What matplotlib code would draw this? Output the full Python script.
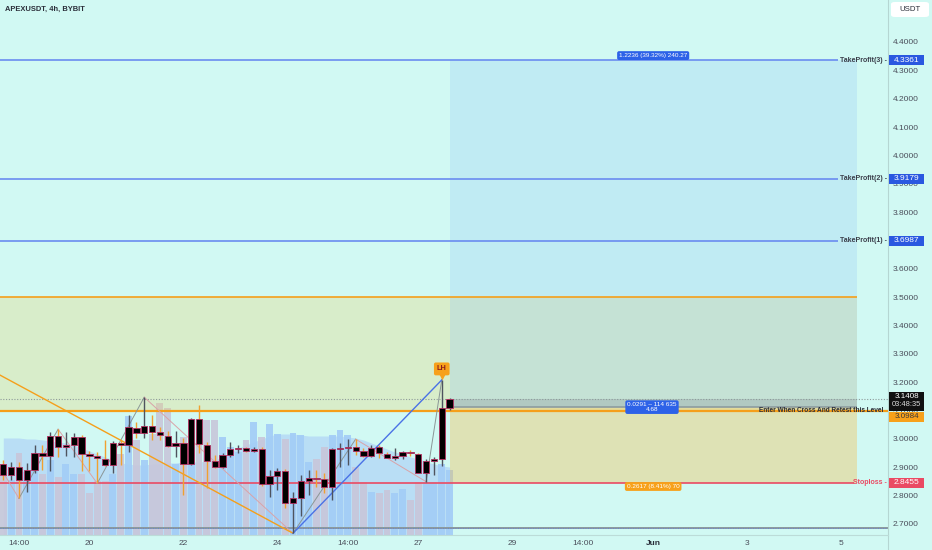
import matplotlib
matplotlib.use("Agg")
import matplotlib.pyplot as plt
import matplotlib.transforms as mtrans
from matplotlib.patches import Rectangle, FancyBboxPatch
from matplotlib.lines import Line2D
import numpy as np

plt.rcParams['font.family'] = ['Liberation Sans', 'DejaVu Sans']

# ---------------- data ----------------
opens = [2.912, 2.873, 2.902, 2.855, 2.890, 2.949, 2.940, 3.010, 2.970, 2.979,
         3.006, 2.946, 2.940, 2.929, 2.908, 2.984, 2.977, 3.040, 3.020, 3.046,
         3.023, 3.010, 2.975, 2.984, 2.912, 3.069, 2.979, 2.922, 2.900, 2.944,
         2.965, 2.967, 2.957, 2.963, 2.841, 2.870, 2.888, 2.775, 2.790, 2.853,
         2.863, 2.857, 2.829, 2.964, 2.967, 2.973, 2.959, 2.940, 2.973, 2.947,
         2.934, 2.940, 2.952, 2.947, 2.881, 2.922, 2.928, 3.108]
highs = [2.926, 2.920, 2.920, 2.914, 2.979, 2.979, 3.026, 3.034, 3.023, 3.022,
         3.014, 2.959, 2.955, 2.996, 2.993, 2.996, 3.084, 3.061, 3.147, 3.084,
         3.043, 3.029, 3.029, 3.002, 3.073, 3.120, 2.990, 2.943, 2.949, 2.990,
         2.979, 2.973, 2.973, 2.973, 2.890, 2.896, 2.893, 2.814, 2.873, 2.890,
         2.890, 2.879, 2.967, 2.987, 2.999, 2.999, 2.967, 2.979, 2.979, 2.955,
         2.967, 2.959, 2.961, 2.949, 2.928, 2.935, 3.208, 3.143]
lows = [2.855, 2.855, 2.790, 2.814, 2.879, 2.890, 2.888, 2.935, 2.940, 2.937,
        2.885, 2.885, 2.843, 2.904, 2.881, 2.908, 2.955, 3.002, 3.002, 2.996,
        2.996, 2.973, 2.937, 2.802, 2.908, 2.949, 2.826, 2.896, 2.896, 2.937,
        2.949, 2.952, 2.955, 2.834, 2.796, 2.820, 2.755, 2.667, 2.728, 2.802,
        2.832, 2.808, 2.785, 2.902, 2.908, 2.943, 2.935, 2.935, 2.932, 2.932,
        2.926, 2.928, 2.940, 2.879, 2.849, 2.873, 2.904, 3.102]
closes = [2.873, 2.902, 2.855, 2.890, 2.949, 2.940, 3.010, 2.970, 2.979, 3.006,
          2.946, 2.940, 2.932, 2.908, 2.984, 2.977, 3.041, 3.020, 3.047, 3.026,
          3.014, 2.975, 2.987, 2.912, 3.069, 2.981, 2.923, 2.900, 2.942, 2.966,
          2.967, 2.957, 2.963, 2.841, 2.870, 2.888, 2.775, 2.790, 2.853, 2.863,
          2.859, 2.829, 2.964, 2.968, 2.973, 2.959, 2.940, 2.967, 2.949, 2.934,
          2.940, 2.952, 2.949, 2.881, 2.922, 2.928, 3.108, 3.141]
volumes = [63, 55, 82, 63, 71, 61, 75, 58, 71, 61,
           61, 42, 54, 54, 61, 81, 119, 95, 75, 101,
           132, 127, 71, 98, 88, 113, 115, 115, 98, 88,
           83, 95, 113, 98, 111, 101, 96, 102, 100, 73,
           76, 88, 100, 105, 100, 68, 53, 43, 42, 45,
           42, 46, 35, 53, 53, 53, 71, 65]
volume_ma = [97, 97, 97, 96, 96, 95, 94, 93, 92, 90,
             87, 84, 81, 78, 75, 72, 71, 70, 70, 71,
             71, 72, 72, 73, 73, 73, 74, 75, 78, 83,
             87, 90, 93, 96, 99, 101, 101, 101, 100, 99,
             99, 99, 99, 99, 98, 97, 95, 92, 89, 86,
             83, 81, 78, 76, 73, 71, 69, 68]

zigzag_x = [-0.42, 2, 7, 12, 18, 37, 45, 54, 56]
zigzag_y = [2.900, 2.790, 3.034, 2.843, 3.147, 2.667, 2.999, 2.849, 3.208]
trend_down_x = [-0.42, 37]
trend_down_y = [3.225, 2.667]
trend_up_x = [37, 56]
trend_up_y = [2.667, 3.208]

time_tick_pos = [2, 11, 23, 35, 44, 53, 65, 74, 83, 95, 107]
time_tick_labels = ["14:00", "20", "22", "24", "14:00", "27", "29", "14:00", "Jun", "3", "5"]
price_ticks = [2.7, 2.8, 2.9, 3.0, 3.1, 3.2, 3.3, 3.4, 3.5, 3.6, 3.7, 3.8, 3.9,
               4.0, 4.1, 4.2, 4.3, 4.4]

take_profits = [4.3361, 3.9179, 3.6987]
tp_names = ["TakeProfit(3)", "TakeProfit(2)", "TakeProfit(1)"]
stoploss = 2.8455
entry_level = 3.0984
zone_top = 3.5
last_price = 3.1408
countdown = "03:48:35"
position_entry = 3.112
position_start, position_end = 57, 109
low_line = 2.686
lh_bar = 56
label_bar = 83

target_label = "1.2236 (39.32%) 240.27"
pnl_label = "0.0291 – 114 635\n4.68"
stop_label = "0.2617 (8.41%) 70"
entry_text = "Enter When Cross And Retest this Level"

# ---------------- style ----------------
BG = "#d1f9f3"
ORANGE = "#f59f1a"
BLUE_LINE = "#6a8cf0"
BOX_BLUE = "#2a58e0"
RED = "#ea4a63"
TXT = "#4a4e5a"
DARK = "#2a2e39"

W, H = 932, 550
PLOT_R = 888
PLOT_B = 15
XMIN, XMAX = -0.42, 112.99
YMIN, YMAX = 2.661, 4.548


def px2p(d):
    return d * (YMAX - YMIN) / (H - PLOT_B)


fig = plt.figure(figsize=(W / 100, H / 100), dpi=100, facecolor=BG)
rect = [0, PLOT_B / H, PLOT_R / W, (H - PLOT_B) / H]
axv = fig.add_axes(rect)
ax = fig.add_axes(rect)
axv.set_xlim(XMIN, XMAX)
axv.set_ylim(0, H - PLOT_B)
axv.axis('off')
ax.set_xlim(XMIN, XMAX)
ax.set_ylim(YMIN, YMAX)
ax.patch.set_visible(False)
for s in ax.spines.values():
    s.set_visible(False)

o = np.array(opens); h = np.array(highs); l = np.array(lows); c = np.array(closes)
x = np.arange(len(o))
up = c >= o

# ---------------- volume ----------------
axv.fill_between(x, 0, volume_ma, color="#b9def5", lw=0, zorder=1)
axv.bar(x, volumes, width=0.88, color=np.where(up, "#a3cdf7", "#c8c7da"),
        alpha=0.92, lw=0, zorder=2)

# ---------------- zones ----------------
ax.fill_between([XMIN, position_end], entry_level, zone_top, color="#ebd26e", alpha=0.30, lw=0, zorder=1)
ax.fill_between([position_start, position_end], position_entry, take_profits[0], color="#96c8f5", alpha=0.28, lw=0, zorder=1)
ax.fill_between([position_start, position_end], stoploss, position_entry, color="#f5be50", alpha=0.38, lw=0, zorder=1)
ax.fill_between([position_start, position_end], position_entry, last_price, color="#78828c", alpha=0.25, lw=0, zorder=1)
ax.hlines(position_entry, position_start, position_end, color="#8c9ca0", lw=1.2, zorder=2)

ax.hlines(zone_top, XMIN, position_end, color=ORANGE, lw=1.2, zorder=3)
ax.hlines(entry_level, XMIN, XMAX, color=ORANGE, lw=1.6, zorder=3)
ax.axhline(last_price, color="#8e9a9a", lw=0.8, ls=(0, (1, 1.5)), zorder=3)
ax.axhline(low_line, color="#8c9a9c", lw=1.4, zorder=3)
ax.axhline(low_line, color="#5a7ae8", lw=0.6, ls=(0, (1, 2)), zorder=3)

for tp, name in zip(take_profits, tp_names):
    ax.hlines(tp, XMIN, 106.6, color=BLUE_LINE, lw=1.2, zorder=3)
    ax.text(XMAX - 0.1, tp, name + " -", ha='right', va='center', fontsize=5,
            fontweight='bold', color="#3a3e4a", zorder=8)
ax.hlines(stoploss, XMIN, 108.6, color=RED, lw=1.2, zorder=3)
ax.text(XMAX - 0.1, stoploss, "Stoploss -", ha='right', va='center', fontsize=5,
        fontweight='bold', color=RED, zorder=8)
ax.text(112.4, entry_level, entry_text, ha='right', va='center', fontsize=4.7,
        fontweight='bold', color=DARK, zorder=8)

# ---------------- drawings ----------------
for i in range(len(zigzag_x) - 1):
    col = "#8a9696" if zigzag_y[i + 1] > zigzag_y[i] else "#d9a3a8"
    ax.plot(zigzag_x[i:i + 2], zigzag_y[i:i + 2], color=col, lw=0.7, zorder=4)
ax.plot(trend_down_x, trend_down_y, color=ORANGE, lw=1.0, zorder=4)
ax.plot(trend_up_x, trend_up_y, color="#4a72e6", lw=1.0, zorder=4)

# ---------------- candles ----------------
ax.vlines(x, l, h, colors=np.where(up, "#4e535e", "#f0a030"), lw=1.0, zorder=6)
ax.bar(x, np.abs(c - o), bottom=np.minimum(o, c), width=0.8, color="black",
       edgecolor="#b3305f", linewidth=0.6, zorder=7)

# LH label
ax.plot(lh_bar, highs[lh_bar] + px2p(2.5), marker='v', ms=4.5, color="#f7a11a", mec='none', zorder=9)
ax.text(lh_bar, highs[lh_bar] + px2p(11), "LH", ha='center', va='center', fontsize=5.3,
        fontweight='bold', color="#8b1c1c", zorder=10,
        bbox=dict(boxstyle='round,pad=0.4,rounding_size=0.25', fc="#f7a11a", ec='none'))

# on-chart measurement labels
ax.text(label_bar, take_profits[0] + px2p(4.5), target_label, ha='center', va='center',
        fontsize=4.6, color='white', zorder=12,
        bbox=dict(boxstyle='round,pad=0.3,rounding_size=0.3', fc="#2d62e8", ec='none'))
ax.text(label_bar - 0.15, position_entry, pnl_label, ha='center', va='center', fontsize=4.6,
        color='white', linespacing=0.95, zorder=12,
        bbox=dict(boxstyle='round,pad=0.3,rounding_size=0.3', fc="#2d62e8", ec='none'))
ax.text(label_bar, stoploss - px2p(3.8), stop_label, ha='center', va='center', fontsize=4.6,
        color='white', zorder=12,
        bbox=dict(boxstyle='round,pad=0.3,rounding_size=0.3', fc="#f7a11a", ec='none'))

# ---------------- axes ----------------
ax.yaxis.tick_right()
ax.set_yticks(price_ticks)
ax.set_yticklabels([f"{v:.4f}" for v in price_ticks])
ax.tick_params(axis='y', length=0, pad=3.6, labelsize=6, labelcolor=TXT)
ax.set_xticks(time_tick_pos)
ax.set_xticklabels(time_tick_labels)
ax.tick_params(axis='x', length=0, pad=3.4, labelsize=6, labelcolor=TXT)
for lab in ax.get_xticklabels():
    if lab.get_text() == "Jun":
        lab.set_fontweight('bold')
        lab.set_color(DARK)

fig.add_artist(Line2D([PLOT_R / W] * 2, [0, 1], color="#b5d6d2", lw=0.8))
fig.add_artist(Line2D([0, PLOT_R / W], [PLOT_B / H] * 2, color="#bcdcd8", lw=0.8))

trans = mtrans.blended_transform_factory(fig.transFigure, ax.transData)


def price_box(price, text, fc, tc='white', dy=0.0, hp=10, fs=6):
    p = price - px2p(dy)
    fig.add_artist(Rectangle((889 / W, p - px2p(hp / 2)), 35 / W, px2p(hp), transform=trans,
                             fc=fc, ec='none', zorder=10, clip_on=False))
    fig.text(906.5 / W, p, text, transform=trans, ha='center', va='center', fontsize=fs,
             color=tc, zorder=11)


for tp in take_profits:
    price_box(tp, f"{tp:.4f}", BOX_BLUE)
price_box(stoploss, f"{stoploss:.4f}", RED)
price_box(entry_level, f"{entry_level:.4f}", "#f7a11a", tc="#3a3a3a", dy=6, hp=10, fs=5.8)
# current price box (two lines)
fig.add_artist(Rectangle((889 / W, last_price - px2p(12)), 35 / W, px2p(18.5), transform=trans,
                         fc="#111111", ec='none', zorder=10, clip_on=False))
fig.text(906.5 / W, last_price + px2p(2.5), f"{last_price:.4f}", transform=trans, ha='center',
         va='center', fontsize=5.8, color='white', zorder=11)
fig.text(906.5 / W, last_price - px2p(5.8), countdown, transform=trans, ha='center',
         va='center', fontsize=5.4, color='#dddddd', zorder=11)

# title and currency box
fig.text(5 / W, 1 - 9 / H, "APEXUSDT, 4h, BYBIT", fontsize=5.4, fontweight='bold',
         color=DARK, va='center', ha='left')
fig.add_artist(FancyBboxPatch((891 / W, 1 - 17 / H), 38 / W, 15 / H,
                              boxstyle='round,pad=0,rounding_size=0.004',
                              fc='white', ec='none', transform=fig.transFigure))
fig.text(910 / W, 1 - 9.5 / H, "USDT", fontsize=5.6, color=DARK, ha='center', va='center')

fig.savefig("out.png", dpi=100, facecolor=BG)
